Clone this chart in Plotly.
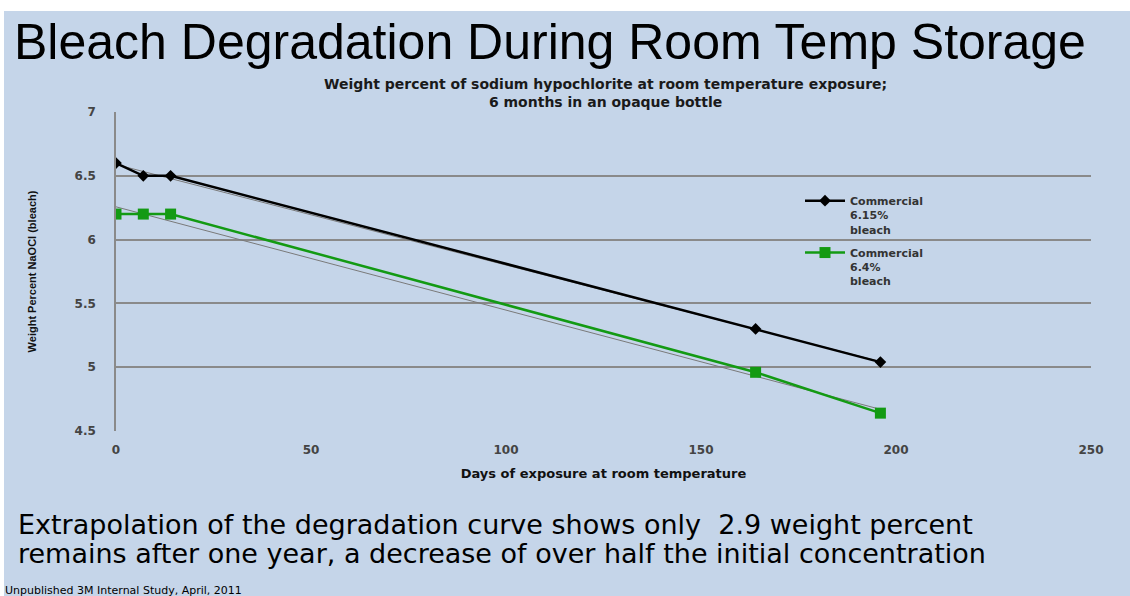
import plotly.graph_objects as go
import numpy as np

# ---- data ----
days = [0, 7, 14, 164, 196]
bleach_615 = [6.6, 6.5, 6.5, 5.3, 5.04]
bleach_64 = [6.2, 6.2, 6.2, 4.96, 4.64]
series_names = ["Commercial<br>6.15%<br>bleach", "Commercial<br>6.4%<br>bleach"]
x_ticks = [0, 50, 100, 150, 200, 250]
y_ticks = [4.5, 5, 5.5, 6, 6.5, 7]

slide_title = "Bleach Degradation During Room Temp Storage"
chart_title = ("<b>Weight percent of sodium hypochlorite at room temperature exposure;"
               "<br>6 months in an opaque bottle</b>")
x_title = "<b>Days of exposure at room temperature</b>"
y_title = "<b>Weight Percent NaOCl (bleach)</b>"
bottom_line1 = "Extrapolation of the degradation curve shows only  2.9 weight percent"
bottom_line2 = "remains after one year, a decrease of over half the initial concentration"
footer = "Unpublished 3M Internal Study, April, 2011"

# ---- layout geometry (pixels) ----
W, H = 1130, 596
L, R, T, B = 116, 1091, 112, 431
pw, ph = R - L, B - T


def px(x):
    return (x - L) / pw


def py(y):
    return (B - y) / ph


BG = "#c5d5e9"
FONT = "Liberation Sans, Arial, sans-serif"
WIDE = "DejaVu Sans, Verdana, sans-serif"

fig = go.Figure()

# trendlines (linear fits)
for ys in (bleach_615, bleach_64):
    k, b0 = np.polyfit(days, ys, 1)
    xs = [days[0], days[-1]]
    fig.add_trace(go.Scatter(x=xs, y=[b0 + k * v for v in xs], mode="lines",
                             line=dict(color="#7a7a7a", width=1),
                             showlegend=False, hoverinfo="skip"))

fig.add_trace(go.Scatter(x=days, y=bleach_615, mode="lines+markers", name=series_names[0],
                         line=dict(color="#000000", width=2.5),
                         marker=dict(symbol="diamond", size=9, color="#000000"),
                         legendgroup="a"))
fig.add_trace(go.Scatter(x=days, y=bleach_64, mode="lines+markers", name=series_names[1],
                         line=dict(color="#139a13", width=2.5),
                         marker=dict(symbol="square", size=11, color="#139a13"),
                         legendgroup="b"))

fig.update_layout(
    width=W, height=H, autosize=False,
    margin=dict(l=L, r=W - R, t=T, b=H - B, pad=0),
    paper_bgcolor=BG, plot_bgcolor="rgba(0,0,0,0)",
    font=dict(family=FONT, color="#000000"),
    showlegend=True,
    legend=dict(x=px(800), y=py(187), xanchor="left", yanchor="top",
                bgcolor="rgba(0,0,0,0)", valign="top", tracegroupgap=6,
                font=dict(family=WIDE, size=11, color="#333333", weight="bold"),
                itemwidth=40),
    xaxis=dict(range=[0, 250], tickvals=x_ticks, showgrid=False, zeroline=False,
               showline=False, ticks="",
               tickfont=dict(family=WIDE, size=12, color="#444444", weight="bold"),
               ticklabelstandoff=10,
               title=dict(text=x_title, font=dict(family=WIDE, size=13, color="#111111"),
                          standoff=12)),
    yaxis=dict(range=[4.5, 7], tickvals=y_ticks, showgrid=True, gridcolor="#8a8a8a",
               gridwidth=1.5, zeroline=False, showline=True, linecolor="#8a8a8a",
               linewidth=1.5, ticks="",
               tickfont=dict(family=WIDE, size=12, color="#444444", weight="bold"),
               ticklabelstandoff=16,
               title=dict(text=y_title,
                          font=dict(family=FONT, size=11, color="#111111"),
                          standoff=36)),
    shapes=[
        dict(type="rect", xref="paper", yref="paper", x0=px(0), x1=px(W), y0=py(11), y1=py(0),
             fillcolor="#ffffff", line=dict(width=0), layer="below"),
        dict(type="rect", xref="paper", yref="paper", x0=px(0), x1=px(4), y0=py(W), y1=py(0),
             fillcolor="#ffffff", line=dict(width=0), layer="below"),
    ],
    annotations=[
        dict(text=slide_title, xref="paper", yref="paper", x=px(12), y=py(42),
             xanchor="left", yanchor="middle", showarrow=False,
             font=dict(family=FONT, size=50, color="#000000")),
        dict(text=chart_title, xref="paper", yref="paper", x=px(605), y=py(93),
             xanchor="center", yanchor="middle", showarrow=False,
             font=dict(family=WIDE, size=14, color="#1a1a1a")),
        dict(text=bottom_line1, xref="paper", yref="paper", x=px(16), y=py(524),
             xanchor="left", yanchor="middle", align="left", showarrow=False,
             font=dict(family=WIDE, size=27, color="#000000")),
        dict(text=bottom_line2, xref="paper", yref="paper", x=px(16), y=py(553),
             xanchor="left", yanchor="middle", align="left", showarrow=False,
             font=dict(family=WIDE, size=27, color="#000000")),
        dict(text=footer, xref="paper", yref="paper", x=px(3), y=py(582),
             xanchor="left", yanchor="top", showarrow=False,
             font=dict(family=WIDE, size=11, color="#000000")),
    ],
)

fig.write_html("out.html", post_script="document.body.style.margin='0';",
               config={"displayModeBar": False})
